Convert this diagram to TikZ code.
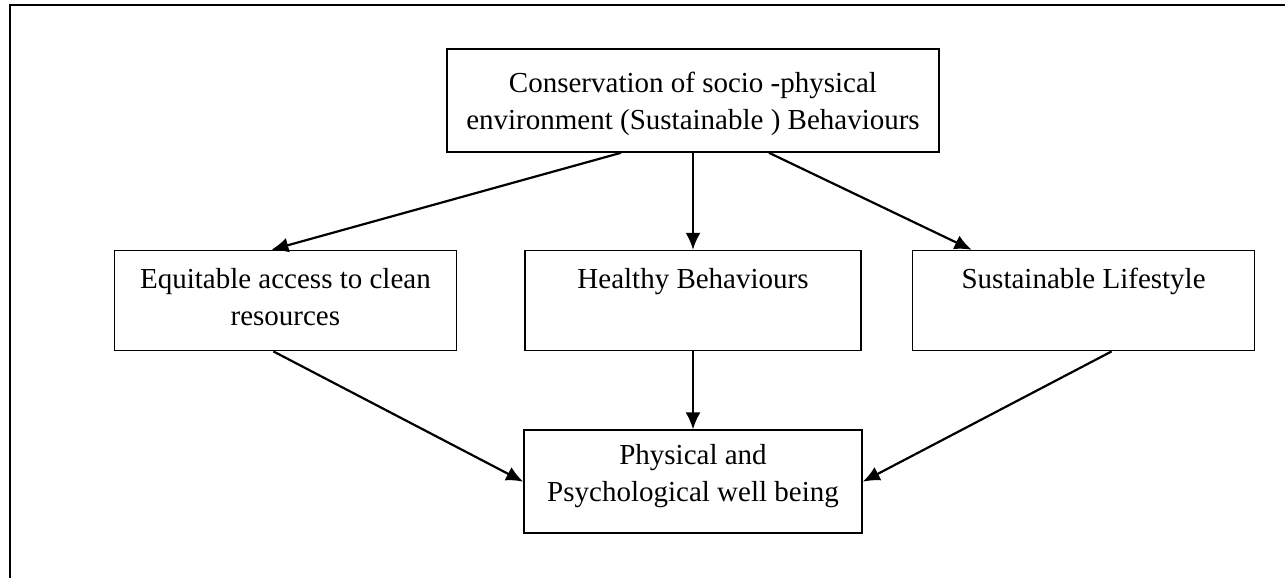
\documentclass[tikz,border=0pt]{standalone}
\usepackage{fontspec}
\setmainfont{Liberation Serif}
\usetikzlibrary{arrows.meta,positioning}

\begin{document}
\begin{tikzpicture}[->, >={Latex[length=8.5pt,width=7.5pt]}, x=0.5pt, y=-0.5pt,
                line width=1.1pt, font=\fontsize{14.5}{18.5}\selectfont,
                box node/.style={rectangle, draw, line width=0.8pt, align=center,
                  inner xsep=0pt, inner ysep=7pt, text height=12pt, text depth=24pt,
                  minimum height=50pt},
                two lines/.style={text height=30.5pt, text depth=5.5pt}]

  \useasboundingbox (0,0) rectangle (1285,578);
  \draw[-, line width=1.3pt] (1285,5) -| (10,578);

  \node[box node, two lines, minimum width=246pt, inner ysep=9.5pt, text depth=2pt,
        minimum height=51.5pt] (cons) at (693,100.5)
        {Conservation of socio -physical\\environment (Sustainable ) Behaviours};
  \node[box node, minimum width=168pt] (health) [below=48.5pt of cons] {Healthy Behaviours};
  \node[box node, two lines, minimum width=171pt] (equi) [left=33.5pt of health]
        {Equitable access to clean\\resources};
  \node[box node, minimum width=171pt] (life) [right=25pt of health] {Sustainable Lifestyle};
  \node[box node, two lines, minimum width=169pt, text height=28.5pt, text depth=9pt,
        minimum height=51.5pt] (well) [below=39pt of health]
        {Physical and\\Psychological well being};

  \path
    ([xshift=-36pt]cons.south) edge ([xshift=-7pt]equi.north)
    (cons) edge (health)
    ([xshift=38pt]cons.south) edge ([xshift=-56pt]life.north)
    ([xshift=-6pt]equi.south) edge (well.west)
    (health) edge (well)
    ([xshift=14pt]life.south) edge (well.east);
\end{tikzpicture}
\end{document}
